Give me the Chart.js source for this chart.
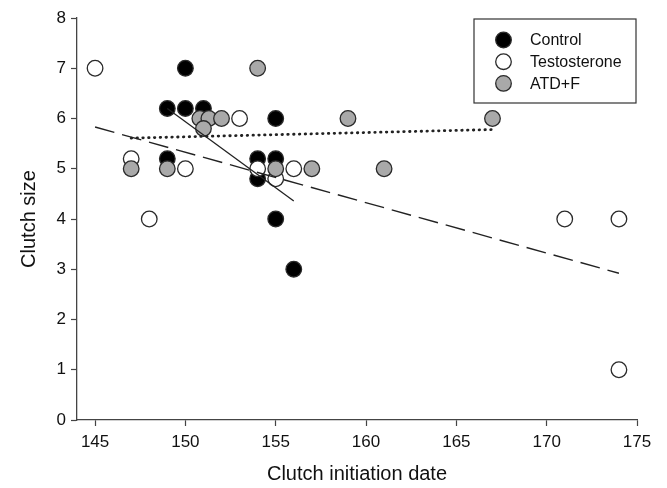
<!DOCTYPE html>
<html>
<head>
<meta charset="utf-8">
<script src="https://cdn.jsdelivr.net/npm/chart.js@4"></script>
<style>
body{margin:0;background:#fff}
</style>
</head>
<body>
<canvas id="grafico" width="667" height="488"></canvas>
<script>
// punti
const controlX = [150, 149, 150, 151, 155, 149, 154, 155, 154, 155, 156];
const controlY = [7, 6.2, 6.2, 6.2, 6, 5.2, 5.2, 5.2, 4.8, 4, 3];
const testX = [145, 153, 147, 150, 154, 156, 155, 148, 171, 174, 174];
const testY = [7, 6, 5.2, 5, 5, 5, 4.8, 4, 4, 4, 1];
const atdX = [154, 150.8, 151.3, 152, 159, 167, 151, 147, 149, 155, 157, 161];
const atdY = [7, 6, 6, 6, 6, 6, 5.8, 5, 5, 5, 5, 5];

// rette di regressione (estremi)
const rettaControlX = [149, 156];
const rettaControlY = [6.2, 4.36];
const rettaTestX = [145, 174];
const rettaTestY = [5.83, 2.92];
const rettaAtdX = [147, 167];
const rettaAtdY = [5.61, 5.78];

const xTicks = [145, 150, 155, 160, 165, 170, 175];
const yTicks = [0, 1, 2, 3, 4, 5, 6, 7, 8];
const gruppi = ['Control', 'Testosterone', 'ATD+F'];

const FONT = "'Liberation Sans', Arial, sans-serif";

function punti(xs, ys){
    let ans = [];
    for(let i = 0; i < xs.length; i++){
        ans.push({x: xs[i], y: ys[i]});
    }
    return ans;
}

function serie(label, xs, ys, fill, order){
    return {
        type: 'scatter', label: label, data: punti(xs, ys), order: order,
        backgroundColor: fill, borderColor: '#2a2a2a', borderWidth: 1.3,
        pointRadius: 7.8, pointHoverRadius: 7.8
    };
}

function retta(xs, ys, dash, width, cap){
    return {
        type: 'line', label: '', data: punti(xs, ys), order: 0,
        borderColor: '#222', borderWidth: width, borderDash: dash,
        borderCapStyle: cap, pointRadius: 0, fill: false
    };
}

// legenda con il riquadro, disegnata a mano
const legenda = {
    id: 'legenda',
    afterDraw(chart){
        const ctx = chart.ctx;
        const a = chart.chartArea;
        const x0 = a.right - 163, y0 = a.top + 1, w = 162, h = 84;
        const colori = ['#000', '#fff', '#a9a9a9'];
        ctx.save();
        ctx.fillStyle = '#fff';
        ctx.fillRect(x0, y0, w, h);
        ctx.strokeStyle = '#333';
        ctx.lineWidth = 1.2;
        ctx.strokeRect(x0, y0, w, h);
        ctx.font = '16px ' + FONT;
        ctx.textBaseline = 'middle';
        for(let i = 0; i < gruppi.length; i++){
            const cy = y0 + 21 + i * 21.7;
            ctx.beginPath();
            ctx.arc(x0 + 29.5, cy, 7.8, 0, Math.PI * 2);
            ctx.fillStyle = colori[i];
            ctx.fill();
            ctx.strokeStyle = '#2a2a2a';
            ctx.lineWidth = 1.3;
            ctx.stroke();
            ctx.fillStyle = '#111';
            ctx.fillText(gruppi[i], x0 + 56, cy + 1);
        }
        ctx.restore();
    }
};

function createOptions(){
    const tickFont = {family: FONT, size: 17};
    return {
        responsive: false,
        animation: false,
        layout: {padding: {top: 18, right: 30, left: 0, bottom: 0}},
        plugins: {legend: {display: false}, tooltip: {enabled: false}},
        scales: {
            x: {
                type: 'linear', min: 144, max: 175,
                afterBuildTicks: s => { s.ticks = xTicks.map(v => ({value: v})); },
                afterFit: s => { s.height = 68; },
                grid: {drawOnChartArea: false, tickLength: 6, color: '#444', tickWidth: 1.2},
                border: {color: '#444', width: 1.3},
                ticks: {color: '#111', font: tickFont, padding: 6, maxRotation: 0},
                title: {display: true, text: 'Clutch initiation date', color: '#111',
                        font: {family: FONT, size: 20}, padding: {top: 0, bottom: 2}}
            },
            y: {
                type: 'linear', min: 0, max: 8,
                afterBuildTicks: s => { s.ticks = yTicks.map(v => ({value: v})); },
                afterFit: s => { s.width = 77; },
                grid: {drawOnChartArea: false, tickLength: 6, color: '#444', tickWidth: 1.2},
                border: {color: '#444', width: 1.3},
                ticks: {color: '#111', font: tickFont, padding: 5},
                title: {display: true, text: 'Clutch size', color: '#111',
                        font: {family: FONT, size: 20}, padding: {top: 17, bottom: 0}}
            }
        }
    };
}

function createChart(){
    const canvas = document.getElementById('grafico');
    const data = {
        datasets: [
            retta(rettaControlX, rettaControlY, [], 1.3, 'butt'),
            retta(rettaTestX, rettaTestY, [20, 8], 1.4, 'butt'),
            retta(rettaAtdX, rettaAtdY, [0.5, 5.3], 2.8, 'round'),
            serie(gruppi[2], atdX, atdY, '#a9a9a9', 1),
            serie(gruppi[1], testX, testY, '#fff', 2),
            serie(gruppi[0], controlX, controlY, '#000', 3)
        ]
    };
    return new Chart(canvas, {type: 'scatter', data: data, options: createOptions(), plugins: [legenda]});
}

createChart();
</script>
</body>
</html>
